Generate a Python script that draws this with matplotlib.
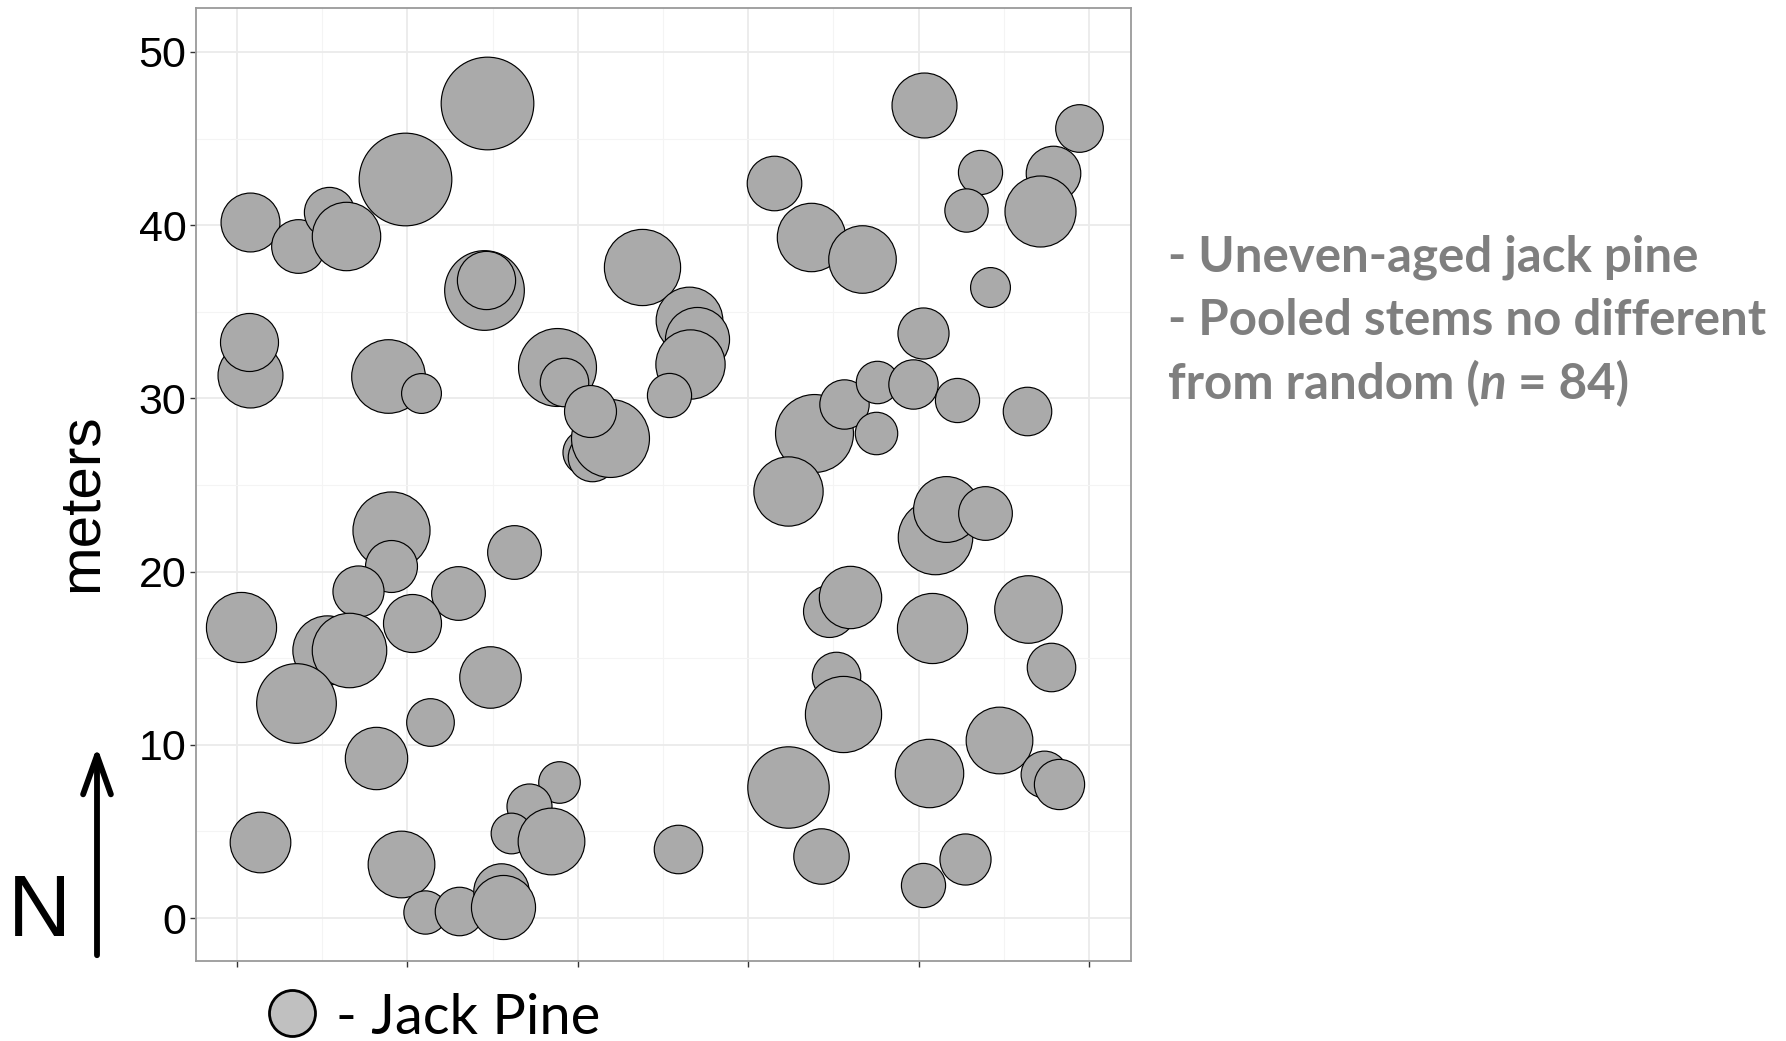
import matplotlib
matplotlib.use("Agg")
import matplotlib.pyplot as plt
from matplotlib.lines import Line2D
from matplotlib.patches import FancyArrowPatch
import numpy as np

# ---- data: stem positions (m) and apparent crown/stem size (m) ----
x_m = [0.77, 3.6, 5.37, 6.37, 9.88, 14.65, 14.51, 14.62, 0.75, 0.71, 8.88, 10.79, 18.79, 19.21,
       40.34, 49.42, 43.58, 47.86, 42.8, 47.13, 31.49, 33.66, 36.67, 44.18, 23.75, 26.53, 27.0, 26.57, 25.32,
       20.4, 20.85, 21.87, 20.72, 33.88, 35.62, 37.56, 37.52, 39.66, 40.27, 42.25, 46.35, 32.34,
       40.97, 41.63, 43.88, 34.76, 35.95, 40.79, 46.39, 47.79, 35.15, 35.53, 44.72, 40.6, 47.36, 48.24,
       32.35, 34.27, 25.86, 42.73, 40.26,
       9.04, 9.04, 16.28, 7.11, 12.98, 0.25, 10.24, 5.25, 6.56, 3.48, 14.85, 11.33, 8.17, 1.36, 9.64,
       18.87, 17.12, 16.1, 18.42, 11.04, 13.0, 15.46, 15.6]
y_m = [40.17, 38.8, 40.75, 39.4, 42.68, 47.08, 36.24, 36.82, 31.38, 33.26, 31.32, 30.29, 31.81, 30.94,
       46.95, 45.63, 43.05, 43.0, 40.85, 40.83, 42.46, 39.32, 38.06, 36.42, 37.59, 34.53, 33.41, 31.98, 30.2,
       26.9, 26.6, 27.73, 29.29, 28.02, 29.69, 30.95, 27.99, 30.86, 33.75, 29.9, 29.29, 24.66,
       22.02, 23.6, 23.4, 17.73, 18.56, 16.75, 17.83, 14.52, 13.97, 11.79, 10.29, 8.37, 8.3, 7.71,
       7.56, 3.6, 3.97, 3.39, 1.91,
       22.39, 20.31, 21.12, 18.91, 18.74, 16.82, 17.03, 15.49, 15.49, 12.4, 13.9, 11.29, 9.24, 4.39, 3.14,
       7.86, 6.47, 4.92, 4.42, 0.33, 0.42, 1.57, 0.61]
size_m = [3.4, 3.1, 2.9, 3.95, 5.35, 5.35, 4.6, 3.36, 3.75, 3.35, 4.25, 2.3, 4.5, 2.8,
          3.75, 2.75, 2.55, 3.15, 2.5, 4.1, 3.15, 3.95, 3.9, 2.3, 4.4, 3.85, 3.7, 4.0, 2.55,
          2.6, 2.8, 4.5, 3.0, 4.5, 2.85, 2.45, 2.45, 2.85, 2.95, 2.55, 2.8, 4.0,
          4.3, 3.8, 3.1, 3.0, 3.6, 4.05, 3.9, 2.8, 2.8, 4.4, 3.85, 3.95, 2.7, 2.9,
          4.7, 3.2, 2.8, 2.95, 2.55,
          4.45, 3.0, 3.1, 2.95, 3.1, 4.05, 3.35, 4.0, 4.3, 4.6, 3.55, 2.75, 3.6, 3.5, 3.85,
          2.4, 2.6, 2.35, 3.85, 2.5, 2.8, 3.2, 3.7]

y_ticks = [0, 10, 20, 30, 40, 50]
y_tick_labels = ["0", "10", "20", "30", "40", "50"]
x_ticks = [0, 10, 20, 30, 40, 50]

y_label = "meters"
legend_label = "- Jack Pine"
note_lines = ["- Uneven-aged jack pine", "- Pooled stems no different"]
note_line3 = ("from random (", "n", " = 84)")

# ---- figure ----
W, H, DPI = 1786, 1041, 100
plt.rcParams['font.family'] = ['Liberation Sans', 'DejaVu Sans']
fig = plt.figure(figsize=(W / DPI, H / DPI), dpi=DPI)
fig.patch.set_facecolor('white')

def fx(px):
    return px / W

def fy(py):
    return 1 - py / H

ax_l, ax_r, ax_t, ax_b = 196, 1131, 8, 961
ax = fig.add_axes([fx(ax_l), fy(ax_b), (ax_r - ax_l) / W, (ax_b - ax_t) / H])
xlim = (-2.41, 52.46)
ylim = (-2.48, 52.54)
ax.set_xlim(*xlim)
ax.set_ylim(*ylim)

# grid
ax.set_xticks(x_ticks)
ax.set_xticks([5, 15, 25, 35, 45], minor=True)
ax.set_yticks(y_ticks)
ax.set_yticks([5, 15, 25, 35, 45], minor=True)
ax.set_yticklabels(y_tick_labels)
ax.set_xticklabels([])
ax.grid(which='major', color='#ebebeb', lw=1.3)
ax.grid(which='minor', color='#f4f4f4', lw=0.8)
ax.set_axisbelow(True)
ax.tick_params(which='minor', length=0)
ax.tick_params(which='major', length=4.5, width=1.0, color='#333333',
               labelsize=31, labelcolor='black', pad=2.5)
for sp in ax.spines.values():
    sp.set_color('#9a9a9a')
    sp.set_linewidth(1.3)

# marker size from data units to points
ax_h_pt = (ax_b - ax_t) / DPI * 72
pt_per_m = ax_h_pt / (ylim[1] - ylim[0])
sizes = [(d * pt_per_m) ** 2 for d in size_m]
for xi, yi, si in zip(x_m, y_m, sizes):
    ax.scatter([xi], [yi], s=[si], facecolor='#aaaaaa', edgecolor='black',
               linewidth=0.85, zorder=3, clip_on=False)

# y label (right edge of rotated text)
ax.set_ylabel(y_label, fontsize=42)
ax.yaxis.set_label_coords((109 - ax_l) / (ax_r - ax_l), (ax_b - 503) / (ax_b - ax_t))

# North arrow and N
arrow = FancyArrowPatch((fx(97), fy(958)), (fx(97), fy(744)), transform=fig.transFigure,
                        arrowstyle='->,head_length=28,head_width=10', mutation_scale=1,
                        lw=4.2, color='black')
fig.add_artist(arrow)
fig.text(fx(8), fy(936), "N", fontsize=63, ha='left', va='baseline')

renderer = fig.canvas.get_renderer()

def fit_text(x, y, s, target_w, **kw):
    t = fig.text(x, y, s, fontsize=30, **kw)
    w = t.get_window_extent(renderer).width
    t.set_fontsize(30 * target_w / w)
    return t

# legend key
fig.add_artist(Line2D([fx(292)], [fy(1013)], marker='o', markersize=46 * 0.72,
                      markerfacecolor='#c0c0c0', markeredgecolor='black',
                      markeredgewidth=2.0, transform=fig.transFigure, linestyle='none'))
fit_text(fx(336), fy(1034), legend_label, 264, ha='left', va='baseline',
         family=['Lato', 'DejaVu Sans'], color='black')

# notes
gray = '#7f7f7f'
t1 = fit_text(fx(1168), fy(335), note_lines[1], 597, ha='left', va='baseline',
              family=['Lato', 'DejaVu Sans'], fontweight='bold', color=gray)
fs = t1.get_fontsize()
fig.text(fx(1168), fy(271), note_lines[0], fontsize=fs, ha='left', va='baseline',
         family=['Lato', 'DejaVu Sans'], fontweight='bold', color=gray)
xcur = fx(1168)
for k, piece in enumerate(note_line3):
    style = 'italic' if k == 1 else 'normal'
    tp = fig.text(xcur, fy(399), piece, fontsize=fs, ha='left', va='baseline',
                  family=['Lato', 'DejaVu Sans'], fontweight='bold', fontstyle=style, color=gray)
    bb = tp.get_window_extent(renderer)
    xcur = bb.x1 / W

fig.savefig("out.png", dpi=DPI, facecolor='white')
